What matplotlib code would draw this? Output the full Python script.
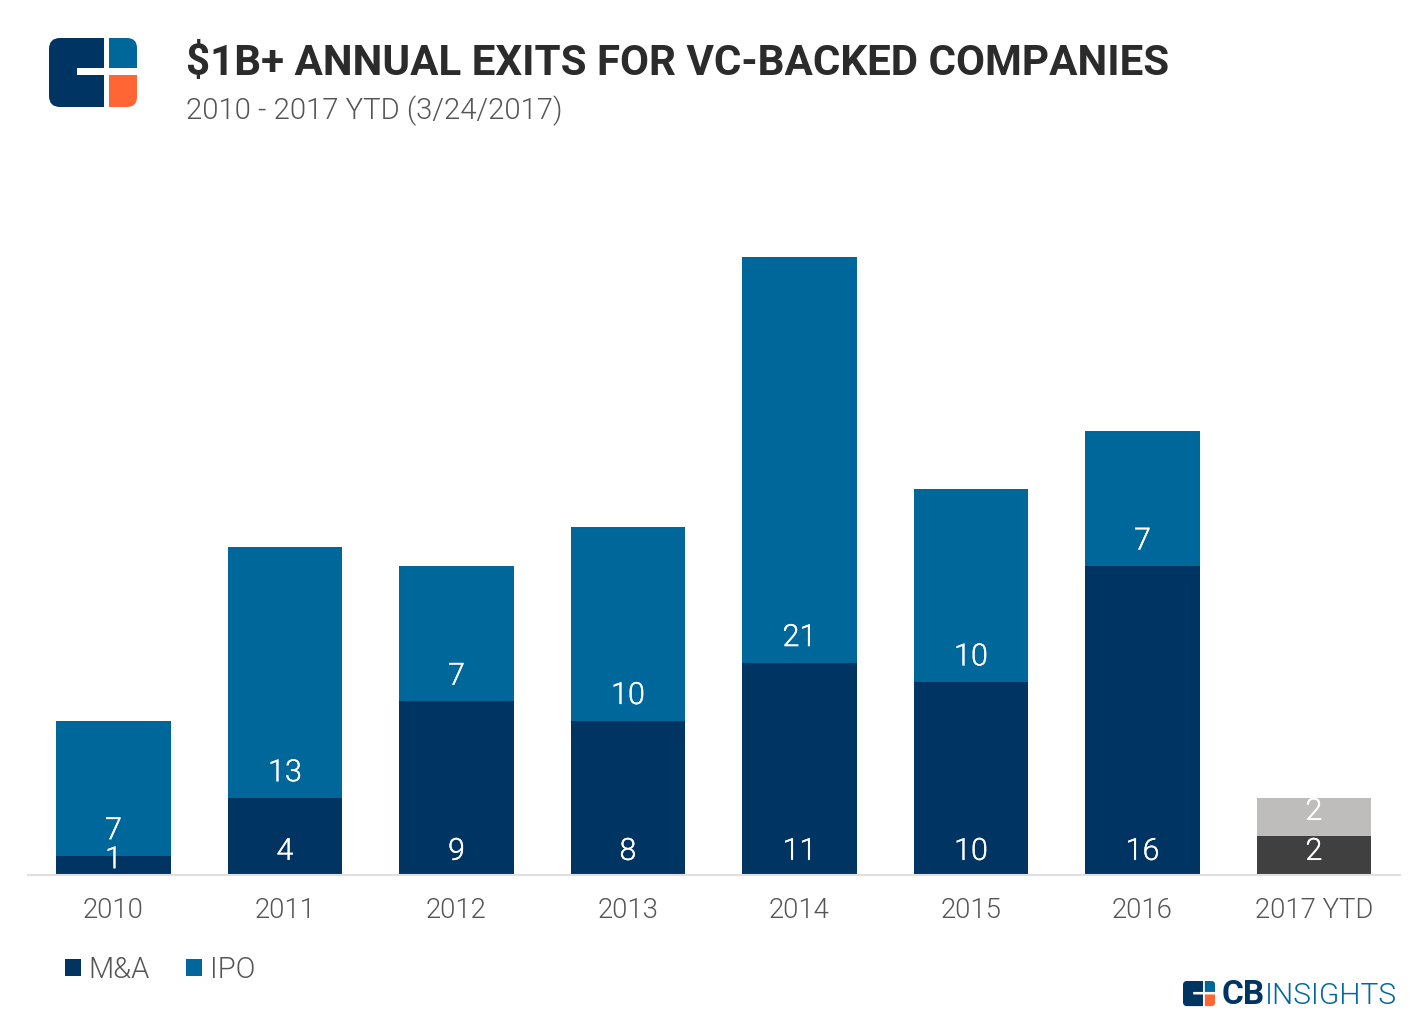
import matplotlib
matplotlib.use('Agg')
import matplotlib.pyplot as plt
import matplotlib.patheffects as pe
from matplotlib.patches import PathPatch
from matplotlib.path import Path

W, H = 1428, 1032

years = ['2010', '2011', '2012', '2013', '2014', '2015', '2016', '2017 YTD']
mna = [1, 4, 9, 8, 11, 10, 16, 2]
ipo = [7, 13, 7, 10, 21, 10, 7, 2]

NAVY = '#003462'
BLUE = '#00679B'
ORANGE = '#FF6633'
DARK_GREY = '#404040'
LIGHT_GREY = '#BEBDBB'
TEXT_GREY = '#555555'

LIGHT = ['Roboto', 'DejaVu Sans']


def rounded(x0, y0, x1, y1, r_tl=0, r_tr=0, r_br=0, r_bl=0):
    """Rectangle path in pixel coords, each corner with its own radius"""
    verts = [(x0 + r_tl, y0), (x1 - r_tr, y0), (x1, y0), (x1, y0 + r_tr),
             (x1, y1 - r_br), (x1, y1), (x1 - r_br, y1),
             (x0 + r_bl, y1), (x0, y1), (x0, y1 - r_bl),
             (x0, y0 + r_tl), (x0, y0), (x0 + r_tl, y0)]
    codes = [Path.MOVETO, Path.LINETO, Path.CURVE3, Path.CURVE3,
             Path.LINETO, Path.CURVE3, Path.CURVE3,
             Path.LINETO, Path.CURVE3, Path.CURVE3,
             Path.LINETO, Path.CURVE3, Path.CURVE3]
    return Path(verts, codes)


def draw_logo(ax, x, y, s):
    """CB Insights mark, s=1 is the large one at the top left"""
    def px(a, b, c, d, **r):
        radii = {k: v * s for k, v in r.items()}
        return rounded(x + a * s, y + b * s, x + c * s, y + d * s, **radii)
    ax.add_patch(PathPatch(px(0, 0, 55, 69, r_tl=11, r_bl=11), fc=NAVY, lw=0))
    ax.add_patch(PathPatch(px(28, 30, 55, 37), fc='white', lw=0))
    ax.add_patch(PathPatch(px(60, 0, 88, 30, r_tr=10), fc=BLUE, lw=0))
    ax.add_patch(PathPatch(px(60, 37, 88, 69, r_br=10), fc=ORANGE, lw=0))


fig = plt.figure(figsize=(W / 100, H / 100), dpi=100)

# main chart, axes edges line up with the baseline and the tallest bar
ax = fig.add_axes([27.7 / W, 1 - 875 / H, 1372 / W, (875 - 257) / H])
x = range(len(years))
bar_colors_a = [NAVY] * 7 + [DARK_GREY]
bar_colors_b = [BLUE] * 7 + [LIGHT_GREY]
ax.bar(x, mna, width=0.667, color=bar_colors_a, label='M&A')
ax.bar(x, ipo, width=0.667, bottom=mna, color=bar_colors_b, label='IPO')
ax.set_xlim(-0.5, 7.5)
ax.set_ylim(0, 32)
ax.set_yticks([])
ax.set_xticks(list(x))
ax.set_xticklabels(years, fontsize=19.8, family=LIGHT, fontweight=300, color=TEXT_GREY)
ax.tick_params(axis='x', length=0, pad=16)
for side in ['top', 'left', 'right']:
    ax.spines[side].set_visible(False)
ax.spines['bottom'].set_color('#E0E0E0')
ax.spines['bottom'].set_linewidth(1.5)

# value labels sit near the base of each segment
thicker = [pe.withStroke(linewidth=0.2, foreground='white')]
for i in x:
    off = 17 if mna[i] > 1 else 11
    ax.annotate(str(mna[i]), (i, 0), xytext=(0, off), textcoords='offset points',
                ha='center', va='center', color='white', fontsize=22,
                family=LIGHT, fontweight=300, path_effects=thicker)
    ax.annotate(str(ipo[i]), (i, mna[i]), xytext=(0, 18), textcoords='offset points',
                ha='center', va='center', color='white', fontsize=22,
                family=LIGHT, fontweight=300, path_effects=thicker)

fig.legend(loc='lower left', bbox_to_anchor=(65 / W, 1 - 984 / H), ncol=2, frameon=False,
           prop={'family': LIGHT, 'size': 21, 'weight': 300}, labelcolor=TEXT_GREY,
           handlelength=0.54, handleheight=0.54, handletextpad=0.27, columnspacing=1.25,
           borderpad=0, borderaxespad=0)

# overlay in pixel coords for the header and logos
over = fig.add_axes([0, 0, 1, 1], facecolor='none')
over.set_xlim(0, W)
over.set_ylim(H, 0)
over.axis('off')

draw_logo(over, 49, 38, 1)
draw_logo(over, 1183, 981, 0.364)

over.text(186, 75, '$1B+ ANNUAL EXITS FOR VC-BACKED COMPANIES', fontsize=30.3, fontweight='bold',
          family=LIGHT, color='#2B2B2B', va='baseline', ha='left')
over.text(186, 119, '2010 - 2017 YTD (3/24/2017)', fontsize=21.1, fontweight=300, family=LIGHT,
          color=TEXT_GREY, va='baseline', ha='left')

over.text(1222, 1004, 'CB', fontsize=24, fontweight='bold', family=LIGHT, color=NAVY,
          va='baseline', ha='left')
over.text(1265, 1004, 'INSIGHTS', fontsize=21.5, fontweight=300, family=LIGHT, color=BLUE,
          va='baseline', ha='left')

fig.savefig('out.png', dpi=100)
